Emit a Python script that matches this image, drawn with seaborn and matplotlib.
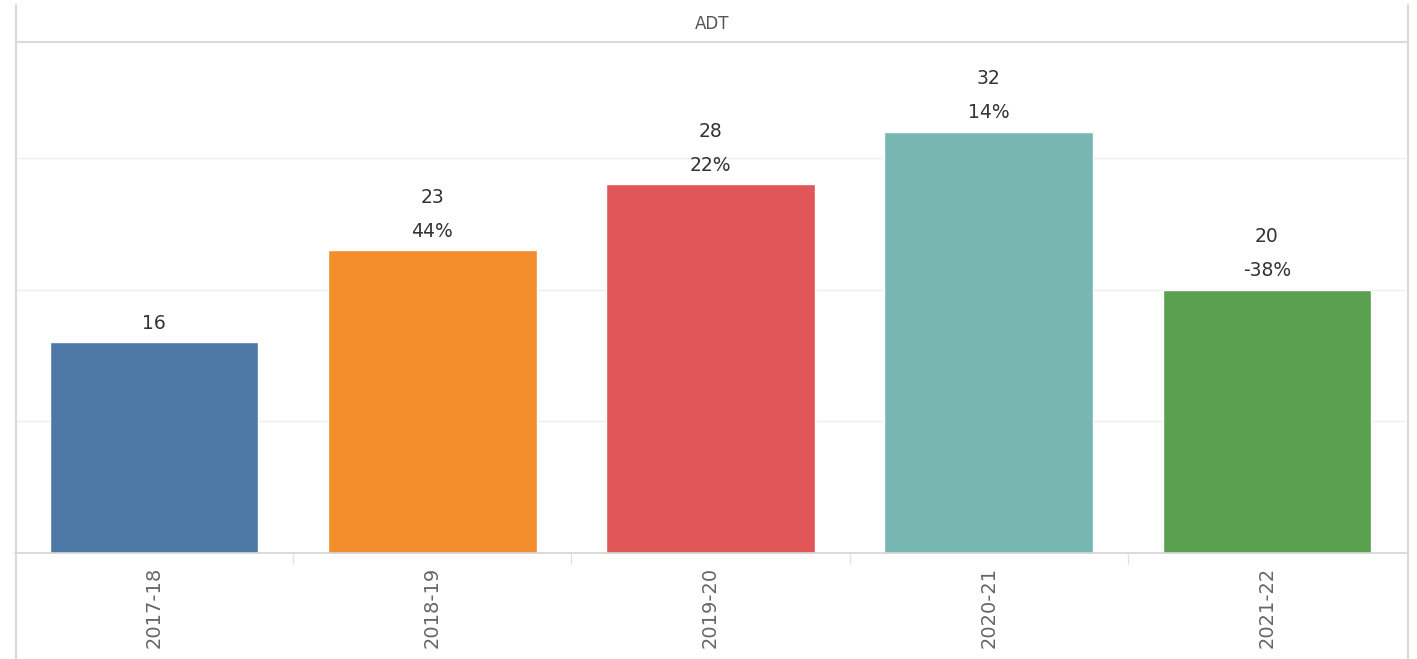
import matplotlib
matplotlib.use("Agg")
import matplotlib.pyplot as plt
import seaborn as sns
import pandas as pd
from matplotlib.lines import Line2D

# Données du graphique
annees = ["2017-18", "2018-19", "2019-20", "2020-21", "2021-22"]
valeurs = [16, 23, 28, 32, 20]
variations = ["", "44%", "22%", "14%", "-38%"]
couleurs = ["#4E79A7", "#F28E2B", "#E15759", "#76B7B2", "#59A14F"]
titre_panneau = "ADT"

df = pd.DataFrame({"annee": annees, "valeur": valeurs})

sns.set_theme(style="white")
plt.rcParams["font.family"] = ["DejaVu Sans"]

W, H = 1417, 659
fig = plt.figure(figsize=(W / 100, H / 100), dpi=100)
ax = fig.add_axes([15 / W, (H - 553) / H, (1406 - 15) / W, (553 - 42) / H])

sns.barplot(data=df, x="annee", y="valeur", hue="annee", palette=couleurs,
            width=0.75, legend=False, ax=ax, saturation=1)

ax.set_xlim(-0.5, len(annees) - 0.5)
ax.set_ylim(0, 38.8)
ax.set_yticks([10, 20, 30])
ax.set_yticklabels([])
ax.tick_params(axis="y", length=0)
ax.yaxis.grid(True, color="#efefef", linewidth=1)
ax.set_axisbelow(True)
ax.set_xlabel("")
ax.set_ylabel("")

for s in ["top", "left", "right"]:
    ax.spines[s].set_visible(False)
ax.spines["bottom"].set_color("#d4d4d4")
ax.spines["bottom"].set_linewidth(1.2)

# Étiquettes de l'axe X
ax.set_xticks(range(len(annees)))
ax.set_xticklabels(annees, rotation=90, fontsize=14, color="#666666", va="top")
ax.tick_params(axis="x", which="major", length=0, pad=10)
ax.set_xticks([i + 0.5 for i in range(len(annees) - 1)], minor=True)
ax.tick_params(axis="x", which="minor", bottom=True, length=8, color="#e3e3e3", width=1)

# Étiquettes des barres
for i, (v, pct) in enumerate(zip(valeurs, variations)):
    if pct:
        ax.annotate(pct, (i, v), xytext=(0, 13.7), textcoords="offset points",
                    ha="center", va="center", fontsize=13.5, color="#333333")
        ax.annotate(str(v), (i, v), xytext=(0, 38.2), textcoords="offset points",
                    ha="center", va="center", fontsize=13.5, color="#333333")
    else:
        ax.annotate(str(v), (i, v), xytext=(0, 13.7), textcoords="offset points",
                    ha="center", va="center", fontsize=13.5, color="#333333")

# Cadre style Tableau
trait = "#d9d9d9"
fig.add_artist(Line2D([16 / W, 16 / W], [0, 1 - 5 / H], transform=fig.transFigure, color=trait, lw=1.5))
fig.add_artist(Line2D([1408 / W, 1408 / W], [0, 1 - 5 / H], transform=fig.transFigure, color=trait, lw=1.5))
fig.add_artist(Line2D([16 / W, 1408 / W], [1 - 42 / H, 1 - 42 / H], transform=fig.transFigure, color=trait, lw=1.5))
fig.text(712 / W, 1 - 24 / H, titre_panneau, ha="center", va="center", fontsize=12, color="#555555")

fig.savefig("out.png", dpi=100, facecolor="white")
